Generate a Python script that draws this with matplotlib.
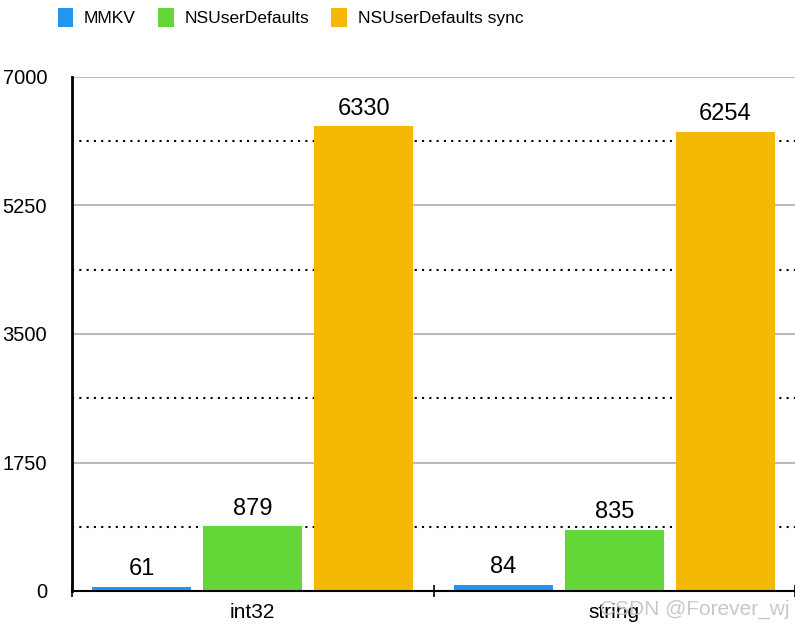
import matplotlib.pyplot as plt
import numpy as np

plt.rcParams['font.family'] = ['Liberation Sans', 'DejaVu Sans']

categories = ['int32', 'string']
series = ['MMKV', 'NSUserDefaults', 'NSUserDefaults sync']
mmkv = [61, 84]
nsud = [879, 835]
nsud_sync = [6330, 6254]
colors = ['#2196EE', '#63D638', '#F5B905']
yticks = [0, 1750, 3500, 5250, 7000]
minor_lines = [875, 2625, 4375, 6125]

fig = plt.figure(figsize=(7.95, 6.3), dpi=100)
ax = fig.add_axes([72 / 795, 1 - 591 / 630, 1 - 72 / 795, (591 - 77) / 630])

x = np.arange(len(categories)) + 0.5
width = 0.275
offsets = [-0.307, 0, 0.307]
values = [mmkv, nsud, nsud_sync]

for y in yticks[1:]:
    ax.axhline(y, color='#bbbbbb', lw=1.5, zorder=0)
for y in minor_lines:
    ax.axhline(y, color='black', lw=1.5, ls=(0, (1, 2.5)), zorder=0)

for vals, off, col, name in zip(values, offsets, colors, series):
    bars = ax.bar(x + off, vals, width, color=col, label=name, zorder=2)
    for b, v in zip(bars, vals):
        ax.text(b.get_x() + b.get_width() / 2, v + 90, str(v),
                ha='center', va='bottom', fontsize=17)

ax.set_xlim(0, 2)
ax.set_ylim(0, 7000)
ax.set_yticks(yticks)
ax.set_yticklabels([str(t) for t in yticks], fontsize=14.5)
ax.tick_params(axis='y', length=0, pad=18)
ax.set_xticks([0, 1, 2])
ax.set_xticklabels([])
ax.set_xticks(x, minor=True)
ax.set_xticklabels(categories, minor=True, fontsize=15)
ax.tick_params(axis='x', which='major', direction='inout', length=8, width=1.2)
ax.tick_params(axis='x', which='minor', length=0, pad=9)

for s in ['top', 'right']:
    ax.spines[s].set_visible(False)
ax.spines['left'].set_linewidth(2)
ax.spines['bottom'].set_linewidth(1.5)

fig.legend(loc='upper left', bbox_to_anchor=(42 / 795, 1.012), ncol=3, frameon=False,
           fontsize=12.5, handlelength=0.9, handleheight=1.3, columnspacing=1.3,
           handletextpad=0.6)

fig.text(0.993, 0.032, 'CSDN @Forever_wj', ha='right', va='center',
         fontsize=15, color='#c8c8c8')

fig.savefig('out.png', dpi=100)
